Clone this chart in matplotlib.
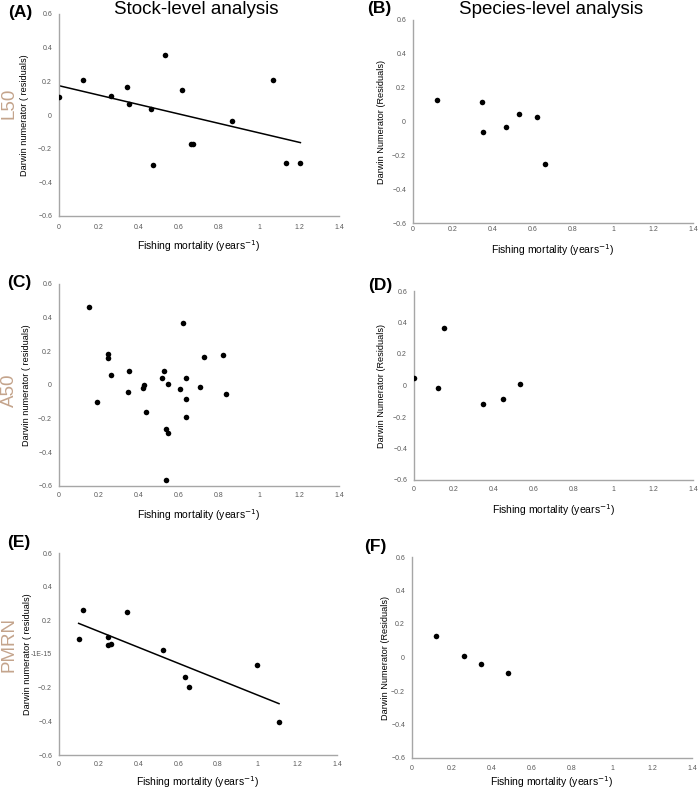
import numpy as np
import matplotlib
matplotlib.use("Agg")
import matplotlib.pyplot as plt

plt.rcParams['font.family'] = ['Liberation Sans', 'DejaVu Sans']

# ---- data ----
# (A) L50, stock level
a_x = [0.0, 0.118, 0.258, 0.342, 0.352, 0.462, 0.470, 0.528, 0.617, 0.658, 0.668, 0.863, 1.070, 1.137, 1.203]
a_y = [0.106, 0.209, 0.112, 0.166, 0.068, 0.037, -0.295, 0.354, 0.148, -0.170, -0.170, -0.033, 0.209, -0.283, -0.287]
a_fit_x = [0.0, 1.207]
a_fit_y = [0.174, -0.164]

# (B) L50, species level
b_x = [0.122, 0.347, 0.352, 0.463, 0.532, 0.620, 0.662]
b_y = [0.130, 0.116, -0.063, -0.032, 0.047, 0.024, -0.252]

# (C) A50, stock level
c_x = [0.150, 0.190, 0.247, 0.247, 0.258, 0.345, 0.352, 0.420, 0.425, 0.433, 0.513, 0.527, 0.535,
       0.543, 0.543, 0.535, 0.605, 0.618, 0.637, 0.637, 0.637, 0.703, 0.725, 0.820, 0.837]
c_y = [0.461, -0.101, 0.182, 0.158, 0.059, -0.040, 0.081, -0.016, -0.002, -0.162, 0.042, 0.081, -0.263,
       -0.287, 0.006, -0.566, -0.022, 0.366, 0.044, -0.085, -0.192, -0.012, 0.166, 0.178, -0.053]

# (D) A50, species level
d_x = [0.0, 0.122, 0.152, 0.347, 0.446, 0.531]
d_y = [0.047, -0.017, 0.368, -0.120, -0.087, 0.011]

# (E) PMRN, stock level
e_x = [0.099, 0.119, 0.247, 0.247, 0.260, 0.342, 0.524, 0.633, 0.653, 0.999, 1.106]
e_y = [0.087, 0.261, 0.103, 0.051, 0.059, 0.248, 0.024, -0.137, -0.194, -0.067, -0.404]
e_fit_x = [0.099, 1.108]
e_fit_y = [0.182, -0.295]

# (F) PMRN, species level
f_x = [0.120, 0.260, 0.346, 0.478]
f_y = [0.127, 0.010, -0.036, -0.095]

x_ticks = [0, 0.2, 0.4, 0.6, 0.8, 1.0, 1.2, 1.4]
x_tick_labels = ['0', '0.2', '0.4', '0.6', '0.8', '1', '1.2', '1.4']
y_ticks = [-0.6, -0.4, -0.2, 0, 0.2, 0.4, 0.6]
y_tick_labels = ['\u22120.6', '\u22120.4', '\u22120.2', '0', '0.2', '0.4', '0.6']
y_tick_labels_e = ['\u22120.6', '\u22120.4', '\u22120.2', '-1E-15', '0.2', '0.4', '0.6']

letters = ['(A)', '(B)', '(C)', '(D)', '(E)', '(F)']
row_names = ['L50', 'A50', 'PMRN']
col_titles = ['Stock-level analysis', 'Species-level analysis']
ylab_stock = 'Darwin numerator ( residuals)'
ylab_species = 'Darwin Numerator (Residuals)'
xlab = 'Fishing mortality (years$^{-1}$)'

panels = [(a_x, a_y), (b_x, b_y), (c_x, c_y), (d_x, d_y), (e_x, e_y), (f_x, f_y)]
fits = {0: (a_fit_x, a_fit_y), 4: (e_fit_x, e_fit_y)}

W, H = 700, 790
# axes boxes in pixels: left, top, right, bottom
boxes = [(59, 14, 339, 216), (413, 20, 693, 223),
         (59, 284, 339, 486), (414, 291, 693, 480),
         (59, 553, 337, 755), (412, 557, 692, 758)]
# per-panel layout tweaks (pixels)
xtick_pad = [6, 2.5, 4, 4.5, 4.5, 5]
xlab_off = [22, 19, 21, 22, 19, 16]
ylab_off = [30, 27, 28, 28, 27, 22]
letter_pos = [(20, 13), (379, 8), (19, 283), (380, 286), (19, 543), (375, 547)]

fig = plt.figure(figsize=(W / 100, H / 100), dpi=100)
spine_col = '#a6a6a6'
tick_col = '#595959'

for i, (xs, ys) in enumerate(panels):
    l, t, r, b = boxes[i]
    ax = fig.add_axes([l / W, 1 - b / H, (r - l) / W, (b - t) / H])
    ax.scatter(xs, ys, s=16, color='black', zorder=3, linewidths=0)
    if i in fits:
        fx, fy = fits[i]
        ax.plot(fx, fy, color='black', lw=1.1)
    ax.set_xlim(0, 1.4)
    ax.set_ylim(-0.6, 0.6)
    ax.set_xticks(x_ticks)
    ax.set_xticklabels(x_tick_labels)
    ax.set_yticks(y_ticks)
    ax.set_yticklabels(y_tick_labels_e if i == 4 else y_tick_labels)
    ax.tick_params(length=0, labelsize=5, colors=tick_col)
    ax.tick_params(axis='x', pad=xtick_pad[i])
    ax.tick_params(axis='y', pad=5)
    for s in ['top', 'right']:
        ax.spines[s].set_visible(False)
    for s in ['left', 'bottom']:
        ax.spines[s].set_color(spine_col)
        ax.spines[s].set_linewidth(1.0)
    ax.set_xlabel(xlab, fontsize=7.5)
    ax.xaxis.set_label_coords(0.5, -xlab_off[i] / (b - t))
    ax.set_ylabel(ylab_stock if i % 2 == 0 else ylab_species, fontsize=6.6)
    ax.yaxis.set_label_coords(-ylab_off[i] / (r - l), 0.5)
    lx, ly = letter_pos[i]
    fig.text(lx / W, 1 - ly / H, letters[i], fontsize=12.5, fontweight='bold',
             ha='center', va='center')

# column titles
fig.text(196 / W, 1 - 1 / H, col_titles[0], fontsize=13.5, ha='center', va='top')
fig.text(551 / W, 1 - 1 / H, col_titles[1], fontsize=13.5, ha='center', va='top')

# row labels
for name, yc in zip(row_names, [103, 390, 644]):
    fig.text(9 / W, 1 - yc / H, name, fontsize=13.5, color='#c4a48c', rotation=90,
             ha='center', va='center')

fig.savefig('out.png', dpi=100)
